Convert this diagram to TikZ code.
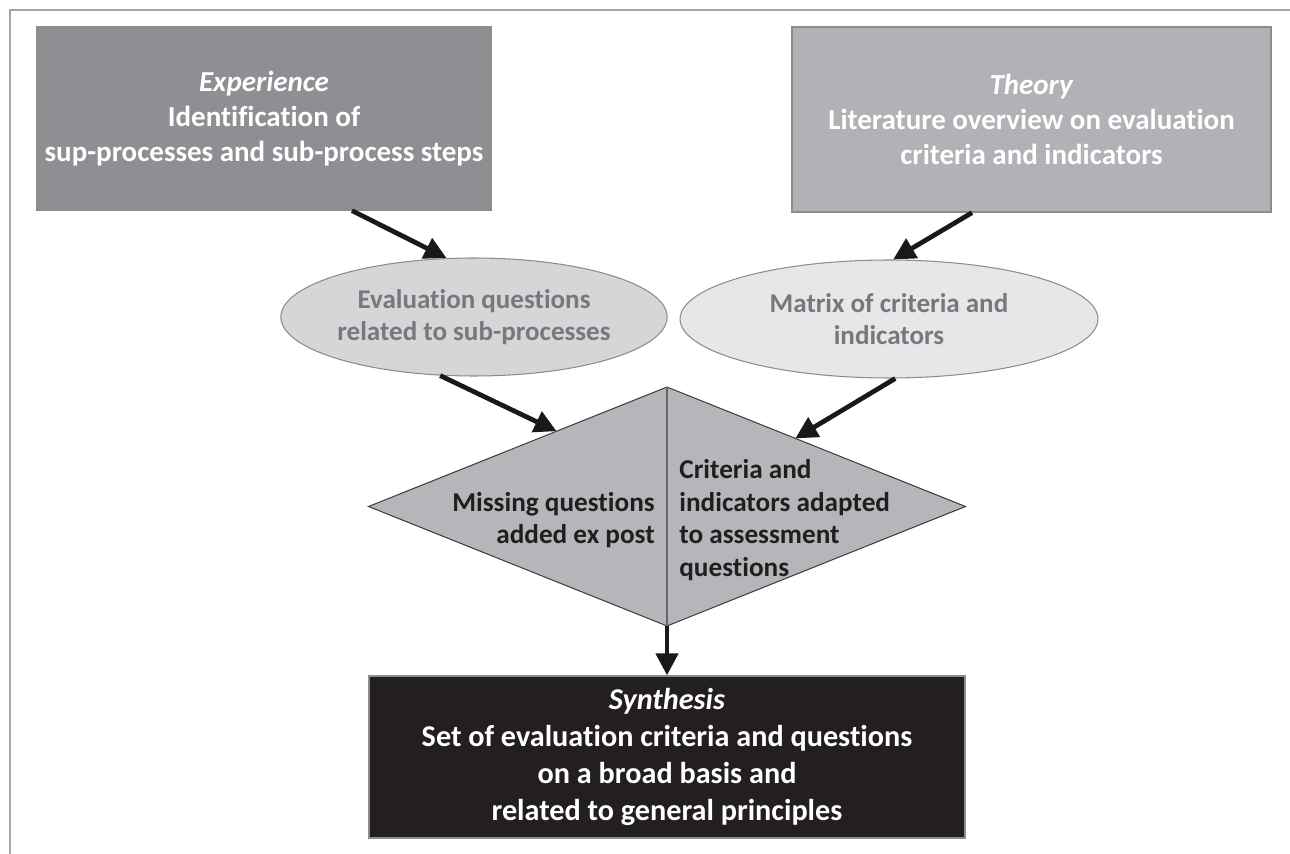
\documentclass[tikz,border=0pt]{standalone}
\usepackage{fontspec}
\setmainfont{Carlito}[Ligatures={NoCommon}]
\usetikzlibrary{arrows.meta,positioning,shapes.geometric,calc}

\definecolor{expgray}{HTML}{8E8F93}
\definecolor{theogray}{HTML}{B1B2B6}
\definecolor{evqgray}{HTML}{D5D6D8}
\definecolor{matgray}{HTML}{E6E7E9}
\definecolor{mrggray}{HTML}{B5B6BA}
\definecolor{synblack}{HTML}{231F20}
\definecolor{ovaltext}{HTML}{77787C}
\definecolor{framegray}{HTML}{A6A6A6}

\begin{document}
\begin{tikzpicture}[
  x=0.02cm, y=-0.02cm,
  box/.style={draw=black!45, line width=0.8pt, align=center, inner sep=0pt, text=white,
    font=\bfseries\fontsize{16.5}{20}\selectfont},
  oval/.style={ellipse, draw=black!45, line width=0.6pt, align=center, inner sep=0pt, text=ovaltext,
    minimum height=2.36cm, font=\bfseries\fontsize{15.4}{18.4}\selectfont},
  dtext/.style={inner sep=0pt, text=black!88, font=\bfseries\fontsize{15.5}{18.6}\selectfont},
  arrow/.style={-{Triangle[length=0.44cm,width=0.44cm]}, line width=2.7pt, draw=black!90}
]
\useasboundingbox (0,0) rectangle (1290,854);
\draw[framegray, line width=1pt] (10,854) -- (10,10) -- (1290,10);

\node[box, fill=expgray, minimum width=9.08cm, minimum height=3.66cm] (exp) at (264,118.5)
  {\textit{Experience}\\Identification of\\sup-processes and sub-process steps};
\node[box, fill=theogray, minimum width=9.58cm, minimum height=3.70cm] (theo) at (1031.5,119.5)
  {\textit{Theory}\\Literature overview on evaluation\\criteria and indicators};

\node[oval, fill=evqgray, minimum width=5.12cm] (evq) at (474,317)
  {Evaluation questions\\related to sub-processes};
\node[oval, fill=matgray, minimum width=8.36cm] (mat) at (889,319)
  {Matrix of criteria and\\indicators};

\node[diamond, draw=black!75, line width=0.6pt, fill=mrggray, inner sep=0pt, outer sep=0pt,
  minimum width=11.94cm, minimum height=4.78cm] (mrg) at (667,506.5) {};
\draw[black!60, line width=0.6pt] (mrg.north) -- (mrg.south);
\node[dtext, align=left, anchor=west] (mrgR) at (679,520)
  {Criteria and\\indicators adapted\\to assessment\\questions};
\node[dtext, align=right, anchor=east] (mrgL) at (655,520)
  {Missing questions\\added ex post};

\node[box, fill=synblack, minimum width=11.92cm, minimum height=3.24cm,
  font=\bfseries\fontsize{17.2}{21}\selectfont] (syn) at (667,757)
  {\textit{Synthesis}\\Set of evaluation criteria and questions\\on a broad basis and\\related to general principles};

\draw[arrow] ([xshift=1.76cm]exp.south) -- (evq.115);
\draw[arrow] ([xshift=-1.19cm]theo.south) -- (mat.86);
\draw[arrow] (evq.240) -- ($(mrg.west)!0.63!(mrg.north)$);
\draw[arrow] (mat.276) -- ($(mrg.north)!0.43!(mrg.east)$);
\draw[arrow] (mrg.south) -- (syn.north);

\end{tikzpicture}
\end{document}
